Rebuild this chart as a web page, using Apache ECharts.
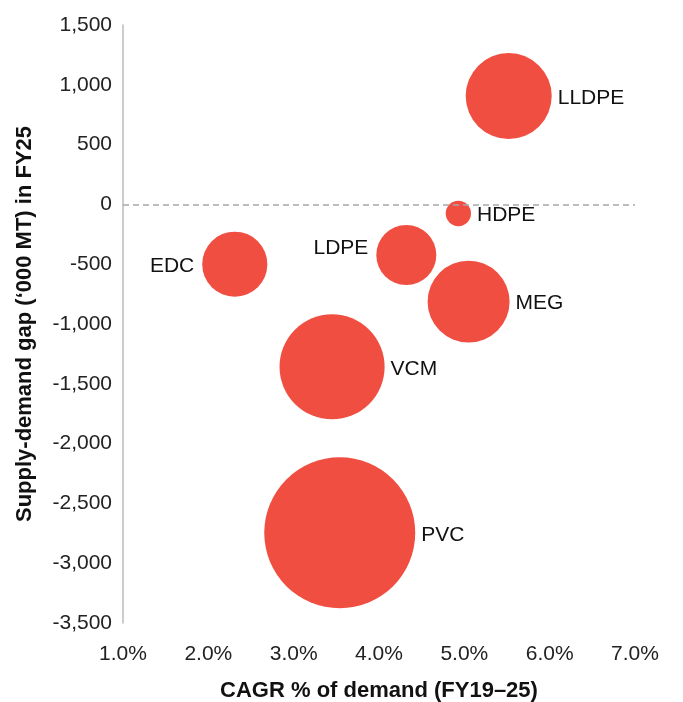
<!DOCTYPE html>
<html>
<head>
<meta charset="utf-8">
<script src="https://cdn.jsdelivr.net/npm/echarts@6/dist/echarts.min.js"></script>
<style>
    html, body { margin: 0; padding: 0; background: #ffffff; }
    #chart { width: 683px; height: 702px; }
</style>
</head>
<body>
<div id="chart"></div>
<script>
const products = ["PVC", "VCM", "LLDPE", "MEG", "EDC", "LDPE", "HDPE"];
const cagr = [3.54, 3.45, 5.52, 5.05, 2.31, 4.32, 4.93];
const gap = [-2746, -1358, 906, -813, -500, -423, -76];
const bubbleSize = [5700, 2760, 1850, 1680, 1060, 900, 160];
const xTicks = [1, 2, 3, 4, 5, 6, 7];
const yTicks = [-3500, -3000, -2500, -2000, -1500, -1000, -500, 0, 500, 1000, 1500];

const labelSide = {
    EDC: { position: "left", distance: 8, offset: [0, 2] },
    LDPE: { position: "left", distance: 8, offset: [0, -7] },
};

const chart = echarts.init(document.getElementById("chart"));

const points = products.map((name, i) => ({
    name: name,
    value: [cagr[i], gap[i], bubbleSize[i]],
    label: labelSide[name] || { position: "right", distance: 6, offset: [0, 2] },
}));

const option = {
    backgroundColor: "#ffffff",
    animation: false,
    textStyle: { fontFamily: "Liberation Sans, Arial, sans-serif" },
    grid: { left: 123, right: 48, top: 25, bottom: 79, outerBoundsMode: "none", containLabel: false },
    xAxis: {
        type: "value",
        min: xTicks[0],
        max: xTicks[xTicks.length - 1],
        interval: 1,
        name: "CAGR % of demand (FY19\u201325)",
        nameLocation: "middle",
        nameGap: 57,
        nameTextStyle: { fontSize: 22, fontWeight: "bold", color: "#111" },
        axisLine: { show: false },
        axisTick: { show: false },
        splitLine: { show: false },
        axisLabel: {
            margin: 21,
            fontSize: 21,
            color: "#222",
            formatter: (v) => v.toFixed(1) + "%",
        },
    },
    yAxis: {
        type: "value",
        min: yTicks[0],
        max: yTicks[yTicks.length - 1],
        interval: 500,
        name: "Supply-demand gap (\u2018000 MT) in FY25",
        nameLocation: "middle",
        nameGap: 87,
        nameTextStyle: { fontSize: 22, fontWeight: "bold", color: "#111" },
        axisLine: { show: true, onZero: false, lineStyle: { color: "#bbbbbb", width: 1.5 } },
        axisTick: { show: false },
        splitLine: { show: false },
        axisLabel: {
            margin: 11,
            fontSize: 21,
            color: "#222",
            formatter: (v) => v.toLocaleString("en-US"),
        },
    },
    series: [
        {
            type: "scatter",
            data: points,
            symbolSize: (val) => 2 * Math.sqrt(val[2]),
            itemStyle: { color: "#f14e42", opacity: 1 },
            label: {
                show: true,
                formatter: (p) => p.name,
                fontSize: 21,
                color: "#111",
            },
            markLine: {
                silent: true,
                symbol: ["none", "none"],
                label: { show: false },
                lineStyle: { color: "#a8a8a8", type: [6, 4], width: 1.5 },
                data: [{ yAxis: 0 }],
            },
        },
    ],
};

chart.setOption(option);
</script>
</body>
</html>
